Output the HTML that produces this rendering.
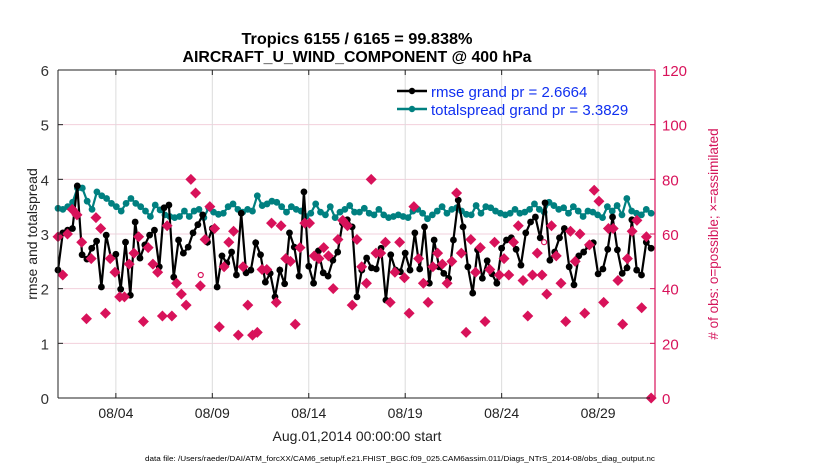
<!DOCTYPE html>
<html><head><meta charset="utf-8"><style>
body{margin:0;background:#fff;}
svg{display:block;font-family:"Liberation Sans",Arial,sans-serif;}
</style></head><body>
<svg id="chart" width="830" height="470" viewBox="0 0 830 470">
<text x="357" y="44" text-anchor="middle" font-size="15.5" font-weight="bold" textLength="231" lengthAdjust="spacingAndGlyphs">Tropics 6155 / 6165 = 99.838%</text>
<text x="357" y="62" text-anchor="middle" font-size="15.5" font-weight="bold" textLength="349" lengthAdjust="spacingAndGlyphs">AIRCRAFT_U_WIND_COMPONENT @ 400 hPa</text>
<g id="grid"></g>
<g id="series"></g>
<g id="axes"></g>
<text x="0" y="0" transform="translate(37,234) rotate(-90)" text-anchor="middle" font-size="14" fill="#222">rmse and totalspread</text>
<text x="0" y="0" transform="translate(718,234) rotate(-90)" text-anchor="middle" font-size="13.5" fill="#d4145a"># of obs: o=possible; ×=assimilated</text>
<text x="357" y="441" text-anchor="middle" font-size="14" fill="#222">Aug.01,2014 00:00:00 start</text>
<text x="145" y="461" font-size="7.5" fill="#000" textLength="510" lengthAdjust="spacingAndGlyphs">data file: /Users/raeder/DAI/ATM_forcXX/CAM6_setup/f.e21.FHIST_BGC.f09_025.CAM6assim.011/Diags_NTrS_2014-08/obs_diag_output.nc</text>
<g>
<line x1="397" y1="91" x2="427" y2="91" stroke="#000" stroke-width="2.5"/>
<circle cx="412" cy="91" r="3.2" fill="#000"/>
<text x="431" y="97" font-size="15" fill="#1030f0">rmse grand pr = 2.6664</text>
<line x1="397" y1="109" x2="427" y2="109" stroke="#008080" stroke-width="2.5"/>
<circle cx="412" cy="109" r="3.2" fill="#008080"/>
<text x="431" y="115" font-size="15" fill="#1030f0">totalspread grand pr = 3.3829</text>
</g>
</svg>
<script>
const rmse=[2.34,3.02,3.07,3.1,3.88,2.62,2.54,2.74,2.87,2.03,2.98,2.56,2.63,1.99,2.85,1.88,3.22,2.56,2.8,2.98,3.07,2.4,3.48,3.53,2.21,2.89,2.65,2.76,3.02,3.17,3.35,2.85,
3.1,2.03,2.6,2.47,2.67,2.25,3.38,2.29,2.34,2.84,2.62,2.12,2.28,1.85,2.34,2.09,3.02,2.76,2.23,3.77,2.41,2.1,2.69,2.29,2.23,2.52,2.67,3.2,3.26,3.13,1.85,
2.34,2.56,2.38,2.36,2.74,1.79,2.62,2.34,2.31,2.65,2.34,3.02,2.36,3.13,2.1,2.89,2.4,2.28,2.19,2.89,3.62,3.13,2.4,1.92,2.71,2.19,2.51,2.27,2.1,2.74,2.89,
2.93,2.72,2.43,3.02,3.22,3.31,2.93,3.57,2.52,2.67,2.93,3.1,2.4,2.07,2.6,2.67,2.78,2.84,2.27,2.36,2.72,3.31,2.71,2.28,2.38,3.26,2.34,2.25,2.85,2.74];
const spread=[3.47,3.45,3.5,3.58,3.84,3.84,3.6,3.45,3.77,3.7,3.65,3.56,3.5,3.42,3.56,3.65,3.56,3.5,3.42,3.32,3.53,3.44,3.35,3.32,3.3,3.32,3.42,3.32,3.42,3.45,3.3,3.48,
3.4,3.36,3.38,3.5,3.55,3.45,3.4,3.45,3.42,3.7,3.52,3.55,3.6,3.58,3.5,3.4,3.5,3.45,3.42,3.32,3.38,3.55,3.4,3.35,3.5,3.3,3.4,3.45,3.52,3.4,
3.4,3.47,3.38,3.35,3.45,3.35,3.3,3.32,3.35,3.32,3.3,3.42,3.45,3.38,3.28,3.35,3.42,3.5,3.38,3.45,3.48,3.42,3.36,3.35,3.52,3.38,3.5,3.48,3.42,3.38,3.35,
3.38,3.45,3.38,3.4,3.45,3.55,3.45,3.4,3.58,3.52,3.45,3.48,3.38,3.5,3.42,3.32,3.42,3.4,3.35,3.3,3.5,3.42,3.52,3.35,3.65,3.42,3.38,3.35,3.45,3.38];
const nobs=[59,45,60,69,67,57,29,51,66,62,31,51,46,37,37,49,53,59,28,55,49,46,30,63,30,42,38,34,80,75,41,58,
70,62,26,48,57,61,23,48,34,23,24,47,47,64,35,63,51,50,27,55,64,64,52,51,55,52,40,58,65,63,34,
58,48,42,80,53,53,57,35,46,57,44,31,70,51,42,35,48,53,49,42,50,75,53,24,58,46,55,28,47,57,45,
51,45,57,63,43,30,45,53,45,38,63,52,42,28,61,50,60,31,56,76,72,35,62,62,43,27,51,61,65,33,59,0];
const possibleDays=[7.4,25.2];
const possibleVals=[45,57];
const leftTicks=[0,1,2,3,4,5,6];
const rightTicks=[0,20,40,60,80,100,120];
const dateTicks=[3,8,13,18,23,28];
const dateLabels=["08/04","08/09","08/14","08/19","08/24","08/29"];
const X0=58,X1=655,Y0=398,Y1=70,DAYS=30.95;
const xS=d=>X0+d/DAYS*(X1-X0);
const yL=v=>Y0-v/6*(Y0-Y1);
const yR=v=>Y0-v/120*(Y0-Y1);
const NS="http://www.w3.org/2000/svg";
function mk(tag,attrs,parent){const e=document.createElementNS(NS,tag);for(const k in attrs)e.setAttribute(k,attrs[k]);parent.appendChild(e);return e;}
const grid=document.getElementById('grid'),ser=document.getElementById('series'),ax=document.getElementById('axes');
leftTicks.forEach(v=>{if(v>0&&v<6){const l=mk('line',{x1:X0,x2:X1,y1:yL(v),y2:yL(v),stroke:'#f2d0dc','stroke-width':1},grid);

}});
dateTicks.forEach(d=>{const l=mk('line',{x1:xS(d),x2:xS(d),y1:Y1,y2:Y0,stroke:'#dcdcdc','stroke-width':1},grid);

});
const tOf=(i,n)=>i*30.75/(n-1);
function line(vals,color,name){let p=vals.map((v,i)=>xS(tOf(i,vals.length)).toFixed(1)+','+yL(v).toFixed(1)).join(' ');
const pl=mk('polyline',{points:p,fill:'none',stroke:color,'stroke-width':2.2},ser);


vals.forEach((v,i)=>{const c=mk('circle',{cx:xS(tOf(i,vals.length)),cy:yL(v),r:3.4,fill:color},ser);

});}
line(spread,'#008080','totalspread');
line(rmse,'#000','rmse');
nobs.forEach((v,i)=>{const x=xS(tOf(i,nobs.length)),y=yR(v);
const m=mk('path',{d:`M${x-5.5},${y}L${x},${y-5.5}L${x+5.5},${y}L${x},${y+5.5}Z`,fill:'#d8125a'},ser);

});
possibleDays.forEach((d,i)=>{const c=mk('circle',{cx:xS(d),cy:yR(possibleVals[i]),r:2.5,fill:'none',stroke:'#d8125a','stroke-width':1.2},ser);

});
mk('line',{x1:X0,x2:X1,y1:Y1,y2:Y1,stroke:'#222','stroke-width':1},ax);
mk('line',{x1:X0,x2:X1,y1:Y0,y2:Y0,stroke:'#222','stroke-width':1},ax);
mk('line',{x1:X0,x2:X0,y1:Y1,y2:Y0,stroke:'#222','stroke-width':1},ax);
mk('line',{x1:X1,x2:X1,y1:Y1,y2:Y0,stroke:'#d8125a','stroke-width':1.2},ax);
leftTicks.forEach(v=>{mk('line',{x1:X0,x2:X0+5,y1:yL(v),y2:yL(v),stroke:'#222'},ax);
const t=mk('text',{x:X0-9,y:yL(v)+6,'text-anchor':'end','font-size':15,fill:'#333'},ax);t.textContent=v;

});
rightTicks.forEach(v=>{mk('line',{x1:X1,x2:X1-5,y1:yR(v),y2:yR(v),stroke:'#d8125a'},ax);
const t=mk('text',{x:X1+7,y:yR(v)+6,'font-size':15,fill:'#d8125a'},ax);t.textContent=v;

});
dateTicks.forEach((d,i)=>{mk('line',{x1:xS(d),x2:xS(d),y1:Y0,y2:Y0-5,stroke:'#222'},ax);
mk('line',{x1:xS(d),x2:xS(d),y1:Y1,y2:Y1+5,stroke:'#222'},ax);
const t=mk('text',{x:xS(d),y:418,'text-anchor':'middle','font-size':14,fill:'#222'},ax);t.textContent=dateLabels[i];

});
</script>
</body></html>
